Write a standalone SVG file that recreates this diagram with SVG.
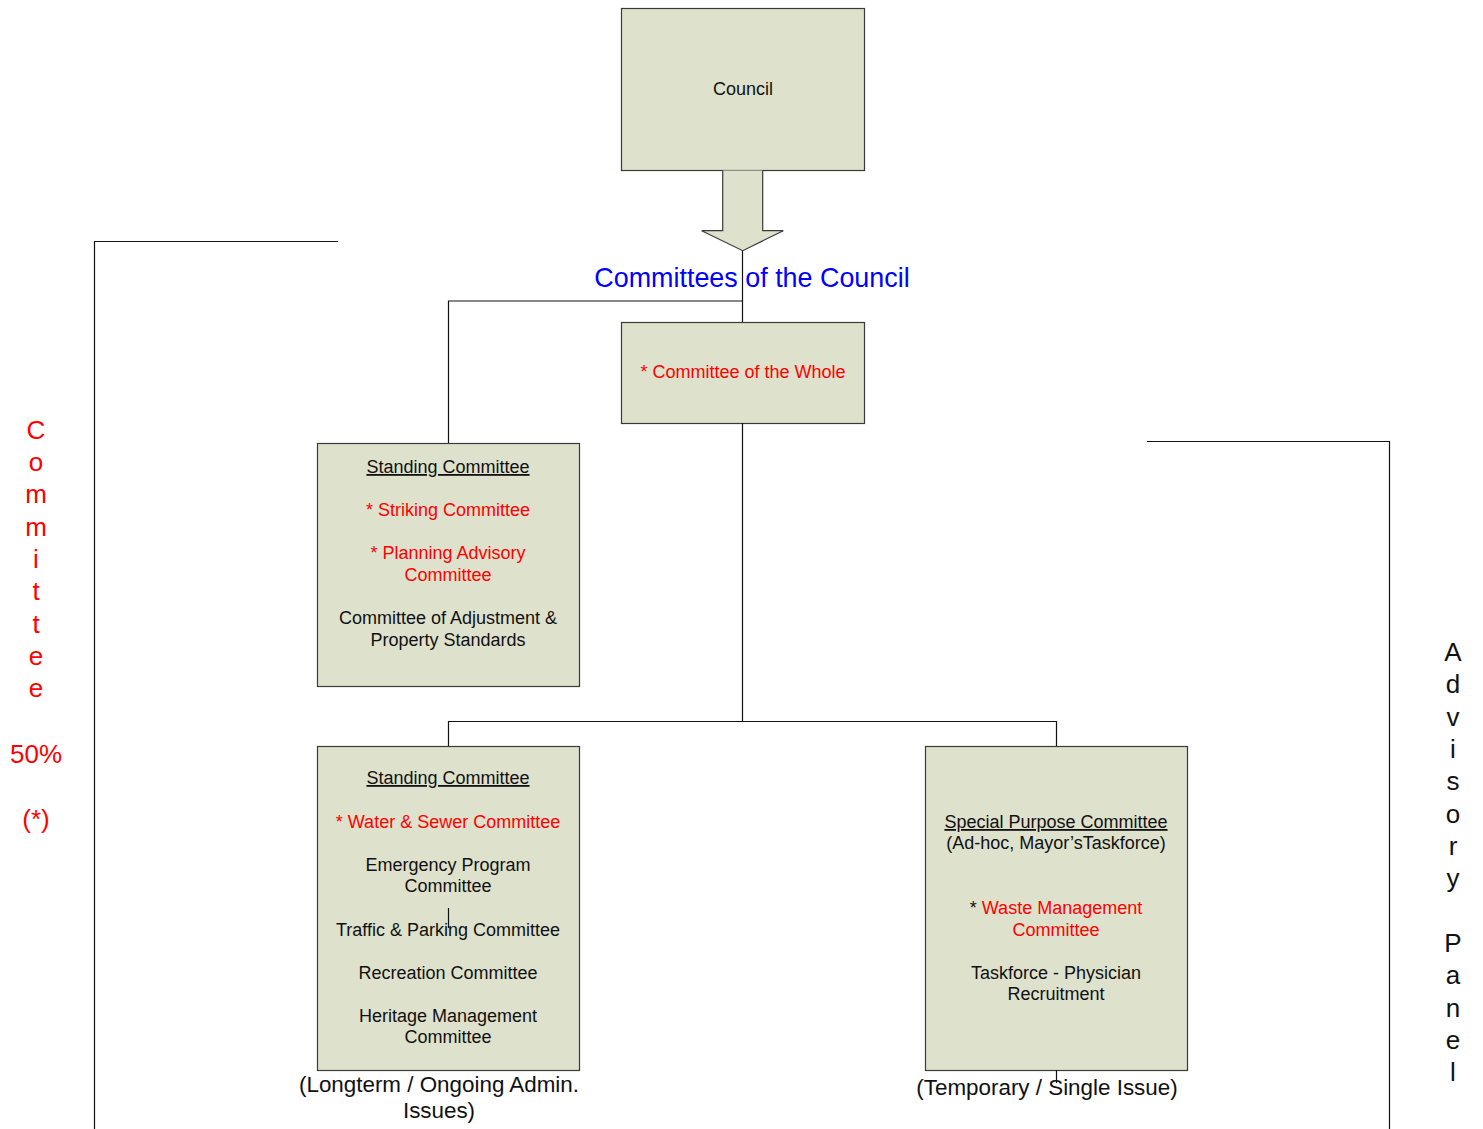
<svg xmlns="http://www.w3.org/2000/svg" width="1483" height="1129" viewBox="0 0 1483 1129">
<style>
.box{fill:#DEE1CC;stroke:#3a3a3a;stroke-width:1.2}
.ln{fill:none;stroke:#111;stroke-width:1.2}
text{font-family:"Liberation Sans",Arial,sans-serif;text-anchor:middle}
.t{font-size:18px;fill:#111}
.r{fill:#ff0000}
.u{text-decoration:underline}
.big{font-size:22.4px;fill:#111}
.side{font-size:26px;fill:#ff0000}
</style>
<rect width="1483" height="1129" fill="#fff"/>
<g id="council">
<rect class="box" x="621.5" y="8.5" width="243" height="162"/>
<text class="t" x="743" y="95">Council</text>
</g>
<g id="arrow">
<path class="box" d="M722.7 170.5V230.7H701.7L742.7 250.7L783.3 230.7H762.7V170.5"/>
</g>
<g id="title">
<text x="752" y="287" style="font-size:26.9px;fill:#0000ff">Committees of the Council</text>
</g>
<g id="committee-whole">
<rect class="box" x="621.5" y="322.5" width="243" height="101"/>
<text class="t r" x="743" y="378">* Committee of the Whole</text>
</g>
<g id="standing-1">
<rect class="box" x="317.5" y="443.5" width="262" height="243"/>
<text class="t u" x="448" y="473">Standing Committee</text>
<text class="t r" x="448" y="516">* Striking Committee</text>
<text class="t r" x="448" y="559">* Planning Advisory</text>
<text class="t r" x="448" y="581">Committee</text>
<text class="t" x="448" y="624">Committee of Adjustment &amp;</text>
<text class="t" x="448" y="646">Property Standards</text>
</g>
<g id="standing-2">
<rect class="box" x="317.5" y="746.5" width="262" height="324"/>
<text class="t u" x="448" y="784">Standing Committee</text>
<text class="t r" x="448" y="828">* Water &amp; Sewer Committee</text>
<text class="t" x="448" y="871">Emergency Program</text>
<text class="t" x="448" y="892">Committee</text>
<text class="t" x="448" y="936">Traffic &amp; Parking Committee</text>
<text class="t" x="448" y="979">Recreation Committee</text>
<text class="t" x="448" y="1022">Heritage Management</text>
<text class="t" x="448" y="1043">Committee</text>
<text class="big" x="439" y="1092">(Longterm / Ongoing Admin.</text>
<text class="big" x="439" y="1118">Issues)</text>
</g>
<g id="special">
<rect class="box" x="925.5" y="746.5" width="262" height="324"/>
<text class="t u" x="1056" y="828">Special Purpose Committee</text>
<text class="t" x="1056" y="849">(Ad-hoc, Mayor’sTaskforce)</text>
<text class="t" x="1056" y="914">* <tspan class="r">Waste Management</tspan></text>
<text class="t r" x="1056" y="936">Committee</text>
<text class="t" x="1056" y="979">Taskforce - Physician</text>
<text class="t" x="1056" y="1000">Recruitment</text>
<text class="big" x="1047" y="1095">(Temporary / Single Issue)</text>
</g>
<g id="left-label" class="side">
<text x="36" y="439">C</text>
<text x="36" y="471">o</text>
<text x="36" y="503">m</text>
<text x="36" y="536">m</text>
<text x="36" y="568">i</text>
<text x="36" y="600">t</text>
<text x="36" y="633">t</text>
<text x="36" y="665">e</text>
<text x="36" y="697">e</text>
<text x="36" y="763">50%</text>
<text x="36" y="828">(*)</text>
</g>
<g id="right-label" style="font-size:26px;fill:#111">
<text x="1453" y="661">A</text>
<text x="1453" y="693">d</text>
<text x="1453" y="726">v</text>
<text x="1453" y="758">i</text>
<text x="1453" y="790">s</text>
<text x="1453" y="823">o</text>
<text x="1453" y="855">r</text>
<text x="1453" y="887">y</text>
<text x="1453" y="952">P</text>
<text x="1453" y="984">a</text>
<text x="1453" y="1017">n</text>
<text x="1453" y="1049">e</text>
<text x="1453" y="1081">l</text>
</g>
<g id="connectors">
<path class="ln" d="M742.5 251V322"/>
<path class="ln" d="M742.5 301H448.5V443"/>
<path class="ln" d="M742.5 423V721.5"/>
<path class="ln" d="M448.5 746V721.5H1056.5V746"/>
<path class="ln" d="M448.5 908V928"/>
<path class="ln" d="M1056.5 1070V1083"/>
<path class="ln" d="M338 241.5H94.5V1129"/>
<path class="ln" d="M1147 441.5H1389.5V1129"/>
</g>
</svg>
